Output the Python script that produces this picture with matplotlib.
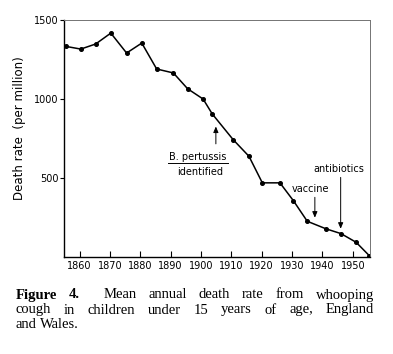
import matplotlib
matplotlib.use("Agg")
import matplotlib.pyplot as plt

# mean annual death rate from whooping cough, children under 15 (per million)
years = [1855.5, 1860.4, 1865.3, 1870.3, 1875.5, 1880.5, 1885.4, 1890.9, 1895.6, 1900.7,
         1903.7, 1910.6, 1915.8, 1920.2, 1926.0, 1930.4, 1935.0, 1941.2, 1946.1, 1951.1, 1955.4]
rate = [1332, 1315, 1347, 1416, 1290, 1353, 1189, 1164, 1064, 999,
        905, 742, 637, 469, 469, 357, 226, 178, 148, 93, 9]

xticks = [1860, 1870, 1880, 1890, 1900, 1910, 1920, 1930, 1940, 1950]
yticks = [500, 1000, 1500]

# caption words: (word, weight); True = justified line
caption_lines = [
    ([("Figure", "bold"), ("4.", "bold"), ("", "normal"), ("Mean", "normal"), ("annual", "normal"),
      ("death", "normal"), ("rate", "normal"), ("from", "normal"), ("whooping", "normal")], True),
    ([("cough", "normal"), ("in", "normal"), ("children", "normal"), ("under", "normal"),
      ("15", "normal"), ("years", "normal"), ("of", "normal"), ("age,", "normal"),
      ("England", "normal")], True),
    ([("and", "normal"), ("Wales.", "normal")], False),
]

fig = plt.figure(figsize=(3.93, 3.54), dpi=100)
ax = fig.add_axes([0.163, 0.274, 0.778, 0.670])

ax.plot(years, rate, color="black", lw=1.1, marker="o", ms=2.6)

ax.set_xlim(1854.9, 1955.6)
ax.set_ylim(0, 1500)
ax.set_xticks(xticks)
ax.set_yticks(yticks)
ax.tick_params(axis="x", direction="in", length=4, pad=3, labelsize=7)
ax.tick_params(axis="y", direction="out", length=3, pad=1, labelsize=7)
for side in ["top", "right"]:
    ax.spines[side].set_color("0.45")
    ax.spines[side].set_linewidth(0.7)
for side in ["left", "bottom"]:
    ax.spines[side].set_linewidth(1.0)

ax.set_ylabel("Death rate  (per million)", fontsize=8.5)
ax.yaxis.set_label_coords(-0.125, 0.545)

# annotations
arrow = dict(arrowstyle="-|>,head_length=0.35,head_width=0.15", lw=0.7, color="black")
ax.annotate("", xy=(1904.9, 843), xytext=(1904.9, 698), arrowprops=arrow)
ax.text(1899.0, 630, "B. pertussis", fontsize=7, ha="center", va="center")
ax.plot([1889.1, 1908.9], [595, 595], color="black", lw=0.7)
ax.text(1899.7, 536, "identified", fontsize=7, ha="center", va="center")

ax.annotate("", xy=(1937.5, 231), xytext=(1937.5, 395), arrowprops=arrow)
ax.text(1935.9, 433, "vaccine", fontsize=7, ha="center", va="center")

ax.annotate("", xy=(1946.0, 161), xytext=(1946.0, 521), arrowprops=arrow)
ax.text(1945.4, 559, "antibiotics", fontsize=7, ha="center", va="center")

# justified caption, placed word by word
serif = "Liberation Serif"
x_left, x_right = 16, 374
line_y = [295, 310, 324.5]
W, H = fig.get_size_inches() * fig.dpi
renderer = fig.canvas.get_renderer()
for (words, justify), yp in zip(caption_lines, line_y):
    objs = [fig.text(0, 1 - yp / H, w, fontsize=10.5, family=serif, weight=wt, va="center")
            for w, wt in words]
    widths = [o.get_window_extent(renderer).width if o.get_text() else 0 for o in objs]
    if justify:
        gap = (x_right - x_left - sum(widths)) / (len(objs) - 1)
    else:
        gap = 3.5
    x = x_left
    for o, wd in zip(objs, widths):
        o.set_x(x / W)
        x += wd + gap

fig.savefig("out.png", dpi=100)
